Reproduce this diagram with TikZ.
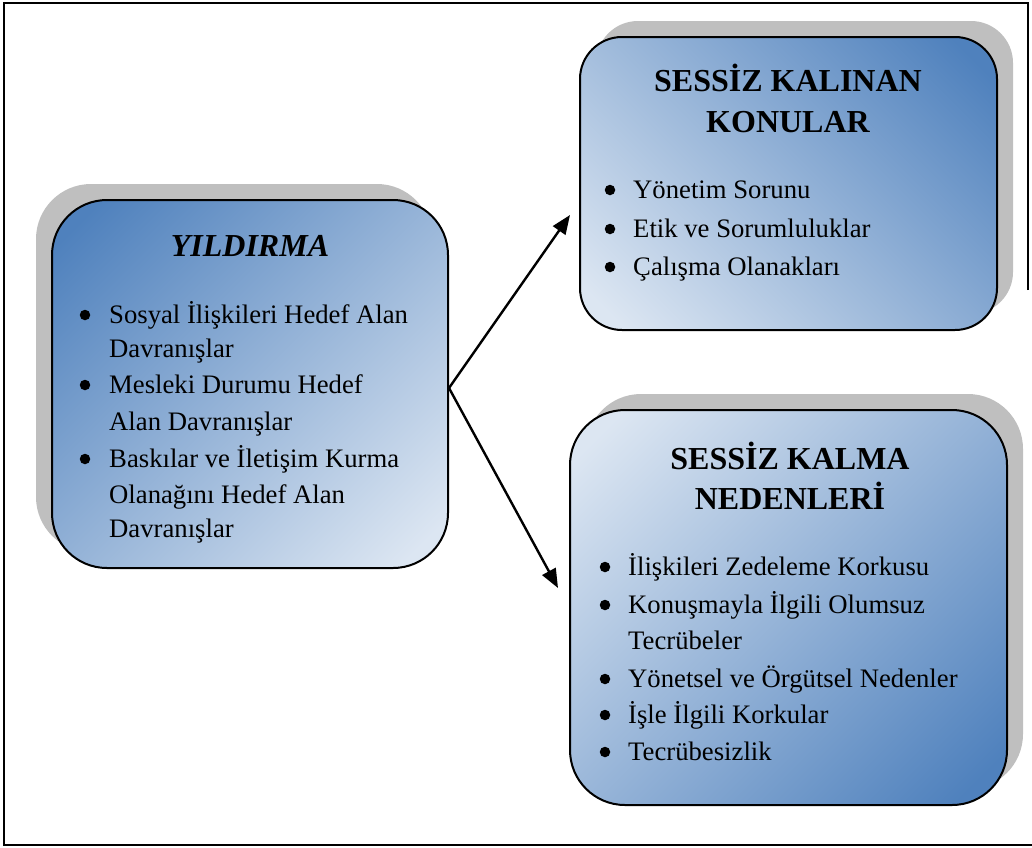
\documentclass[tikz,border=0pt]{standalone}
\usepackage{fontspec}
\setmainfont{Liberation Serif}
\usetikzlibrary{arrows.meta}
\definecolor{dkblue}{RGB}{79,129,189}
\definecolor{ltblue}{RGB}{220,230,242}
\definecolor{shgray}{RGB}{191,191,191}
\pgfdeclareverticalshading{ydiag}{100bp}{color(0bp)=(ltblue); color(19bp)=(ltblue); color(81bp)=(dkblue); color(100bp)=(dkblue)}
\tikzset{
 box/.style={draw=black, line width=2pt, inner sep=0pt, shading=ydiag},
 shadowbox/.style={fill=shgray},
 body/.style={anchor=base west, inner sep=0pt, font=\fontsize{26.7}{36}\selectfont},
 ttl/.style={anchor=base, inner sep=0pt, font=\fontsize{32}{40}\selectfont\bfseries},
 dot/.style={circle, fill=black, inner sep=0pt, minimum size=10.5pt},
 conn/.style={line width=2.4pt, -{Triangle[length=19pt,width=15pt]}},
 frame/.style={line width=2pt},
}
\begin{document}
\begin{tikzpicture}[x=1pt,y=-1pt]
\useasboundingbox (0,0) rectangle (1032,847);
% frame
\draw[frame] (1028,290) -- (1028,3) -- (4,3) -- (4,845) -- (1032,845);
% shadows
\path[shadowbox, rounded corners=55pt] (36,184) rectangle (432,552);
\path[shadowbox, rounded corners=42pt] (596,21) rectangle (1013,314);
\path[shadowbox, rounded corners=55pt] (586,394) rectangle (1023,789);
% boxes
\node[box, rounded corners=55pt, minimum width=396pt, minimum height=368pt, shading angle=45] (yil) at (250,384) {};
\node[box, rounded corners=42pt, minimum width=417pt, minimum height=293pt, shading angle=-45] (kon) at (788.5,183.5) {};
\node[box, rounded corners=55pt, minimum width=437pt, minimum height=395pt, shading angle=225] (ned) at (788.5,607.5) {};
% left box text
\node[ttl, font=\fontsize{32}{40}\selectfont\bfseries\itshape] (t0) at (250,256) {YILDIRMA};
\node[dot] (d1) at (85,315) {};
\node[body] (l1) at (109,323) {Sosyal İlişkileri Hedef Alan};
\node[body] (l2) at (109,357) {Davranışlar};
\node[dot] (d2) at (85,385) {};
\node[body] (l3) at (109,393) {Mesleki Durumu Hedef};
\node[body] (l4) at (109,430) {Alan Davranışlar};
\node[dot] (d3) at (85,459) {};
\node[body] (l5) at (109,467) {Baskılar ve İletişim Kurma};
\node[body] (l6) at (109,503) {Olanağını Hedef Alan};
\node[body] (l7) at (109,537) {Davranışlar};
% top right text
\node[ttl] (t1) at (788,91) {SESSİZ KALINAN};
\node[ttl] (t2) at (788,132) {KONULAR};
\node[dot] (e1) at (610,190) {};
\node[body] (k1) at (633,198) {Yönetim Sorunu};
\node[dot] (e2) at (610,229) {};
\node[body] (k2) at (633,237) {Etik ve Sorumluluklar};
\node[dot] (e3) at (610,267) {};
\node[body] (k3) at (633,275) {Çalışma Olanakları};
% bottom right text
\node[ttl] (t3) at (790,469) {SESSİZ KALMA};
\node[ttl] (t4) at (790,509) {NEDENLERİ};
\node[dot] (f1) at (605,567) {};
\node[body] (n1) at (628,575) {İlişkileri Zedeleme Korkusu};
\node[dot] (f2) at (605,605) {};
\node[body] (n2) at (628,613) {Konuşmayla İlgili Olumsuz};
\node[body] (n3) at (628,649) {Tecrübeler};
\node[dot] (f3) at (605,679) {};
\node[body] (n4) at (628,687) {Yönetsel ve Örgütsel Nedenler};
\node[dot] (f4) at (605,715) {};
\node[body] (n5) at (628,723) {İşle İlgili Korkular};
\node[dot] (f5) at (605,752) {};
\node[body] (n6) at (628,760) {Tecrübesizlik};
% connectors
\coordinate (src) at ([yshift=-4pt]yil.east);
\coordinate (tip1) at (570,215);
\coordinate (tip2) at (558,588);
\draw[conn] (src) -- (tip1);
\draw[conn] (src) -- (tip2);
\end{tikzpicture}
\end{document}
